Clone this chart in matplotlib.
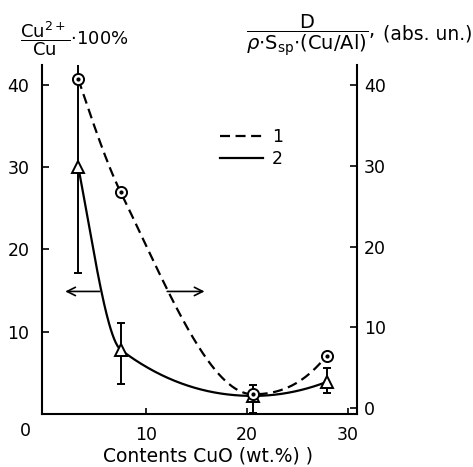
import numpy as np
import matplotlib
matplotlib.use("Agg")
import matplotlib.pyplot as plt
from matplotlib.lines import Line2D

plt.rcParams.update({
    "font.family": "DejaVu Sans",
    "mathtext.fontset": "dejavusans",
})

# CuO content of the catalysts, wt.%
cuo_wt = [3.3, 7.5, 20.6, 27.9]
# Cu2+/Cu fraction, % (left axis, triangles, curve 2)
cu2_ratio = [30.0, 7.8, 2.2, 3.9]
cu2_err_low = [12.8, 4.2, 2.1, 1.4]
cu2_err_high = [12.9, 3.3, 1.3, 1.7]
# normalised dispersion D / (rho * S_sp * (Cu/Al)), abs. units (right axis, circles, curve 1)
dispersion = [40.7, 26.7, 1.7, 6.5]

legend_labels = ["1", "2"]
x_ticks = [10, 20, 30]
y_ticks_left = [10, 20, 30, 40]
y_ticks_right = [0, 10, 20, 30, 40]


def smooth_curve(x, y, n=300):
    """Monotone piecewise-cubic (Fritsch-Carlson) line through the points."""
    x = np.asarray(x, float)
    y = np.asarray(y, float)
    h = np.diff(x)
    d = np.diff(y) / h
    m = np.zeros_like(y)
    for k in range(1, len(x) - 1):
        if d[k - 1] * d[k] > 0:
            w1 = 2 * h[k] + h[k - 1]
            w2 = h[k] + 2 * h[k - 1]
            m[k] = (w1 + w2) / (w1 / d[k - 1] + w2 / d[k])

    def end_slope(h0, h1, d0, d1):
        s = ((2 * h0 + h1) * d0 - h0 * d1) / (h0 + h1)
        if np.sign(s) != np.sign(d0):
            s = 0.0
        elif np.sign(d0) != np.sign(d1) and abs(s) > 3 * abs(d0):
            s = 3 * d0
        return s

    m[0] = end_slope(h[0], h[1], d[0], d[1])
    m[-1] = end_slope(h[-1], h[-2], d[-1], d[-2])
    xs = np.linspace(x[0], x[-1], n)
    i = np.clip(np.searchsorted(x, xs) - 1, 0, len(h) - 1)
    t = (xs - x[i]) / h[i]
    h00 = 2 * t**3 - 3 * t**2 + 1
    h10 = t**3 - 2 * t**2 + t
    h01 = -2 * t**3 + 3 * t**2
    h11 = t**3 - t**2
    ys = h00 * y[i] + h10 * h[i] * m[i] + h01 * y[i + 1] + h11 * h[i] * m[i + 1]
    return xs, ys


W, H = 473, 467
fig = plt.figure(figsize=(W / 100, H / 100), dpi=100)
ax = fig.add_axes([42 / W, 1 - 414 / H, 315 / W, 349 / H])
ax2 = ax.twinx()

ax.set_xlim(-0.3, 30.9)
ax.set_ylim(0, 42.43)
ax2.set_ylim(-0.74, 42.48)

for a in (ax, ax2):
    for s in a.spines.values():
        s.set_linewidth(1.5)
    a.spines["top"].set_visible(False)
ax.spines["right"].set_visible(False)
ax2.spines["left"].set_visible(False)
ax2.spines["bottom"].set_visible(False)

ax.set_xticks(x_ticks)
ax.set_xticklabels([str(v) for v in x_ticks])
ax.set_yticks(y_ticks_left)
ax.set_yticklabels([str(v) for v in y_ticks_left])
ax2.set_yticks(y_ticks_right)
ax2.set_yticklabels([str(v) for v in y_ticks_right])
ax.tick_params(axis="x", direction="in", length=4, width=1.2, pad=9, labelsize=12.5)
ax.tick_params(axis="y", direction="in", length=5, width=1.2, pad=9, labelsize=12.5)
ax2.tick_params(axis="y", direction="in", length=5, width=1.2, pad=5, labelsize=12.5)

# origin label sits left of the y axis
ax.annotate("0", xy=(0, 0), xycoords=("data", "axes fraction"),
            xytext=(-20, -17), textcoords="offset pixels",
            ha="center", va="center", fontsize=12.5)

# curve 2: Cu2+/Cu with error bars
ax.plot(*smooth_curve(cuo_wt, cu2_ratio), color="black", lw=1.6)
ax.errorbar(cuo_wt, cu2_ratio, yerr=[cu2_err_low, cu2_err_high], fmt="none",
            ecolor="black", elinewidth=1.4, capsize=3, capthick=1.4)
ax.plot(cuo_wt, cu2_ratio, ls="none", marker="^", ms=8, mfc="white",
        mec="black", mew=1.4)

# curve 1: normalised dispersion
ax2.plot(*smooth_curve(cuo_wt, dispersion), color="black", lw=1.6,
         ls=(0, (4.5, 2.5)))
ax2.plot(cuo_wt, dispersion, ls="none", marker="o", ms=8, mfc="white",
         mec="black", mew=1.4)
ax2.plot(cuo_wt, dispersion, ls="none", marker="o", ms=2, color="black")

# arrows pointing each curve to its axis
arrow = dict(arrowstyle="->,head_length=0.6,head_width=0.3", lw=1.2,
             color="black", shrinkA=0, shrinkB=0)
ax.annotate("", xy=(2.0, 14.9), xytext=(5.4, 14.9), arrowprops=arrow)
ax.annotate("", xy=(15.8, 14.9), xytext=(12.1, 14.9), arrowprops=arrow)

handles = [Line2D([], [], color="black", lw=1.6, ls=(0, (4.5, 2.5))),
           Line2D([], [], color="black", lw=1.6)]
ax2.legend(handles, legend_labels, frameon=False, fontsize=12.5,
           loc="upper left", bbox_to_anchor=((220 - 42) / 315, (414 - 128) / 349),
           borderpad=0, borderaxespad=0, handlelength=2.5, handletextpad=0.5,
           labelspacing=0.25)

ax.set_xlabel("Contents CuO (wt.%) )", fontsize=13.5)
ax.xaxis.set_label_coords((208 - 42) / 315, -(446 - 414) / 349)

# axis titles
fig.text(20 / W, 1 - 39 / H,
         r"$\dfrac{\mathrm{Cu}^{2+}}{\mathrm{Cu}}{\cdot}\mathrm{100\%}$",
         fontsize=13, ha="left", va="center")
fig.text(246 / W, 1 - 35 / H,
         r"$\dfrac{\mathrm{D}}{\rho{\cdot}\mathrm{S_{sp}}{\cdot}\mathrm{(Cu/Al)}},$",
         fontsize=14, ha="left", va="center")
fig.text(472 / W, 1 - 34 / H, "(abs. un.)", fontsize=13.5,
         ha="right", va="center")

fig.savefig("out.png", dpi=100)
